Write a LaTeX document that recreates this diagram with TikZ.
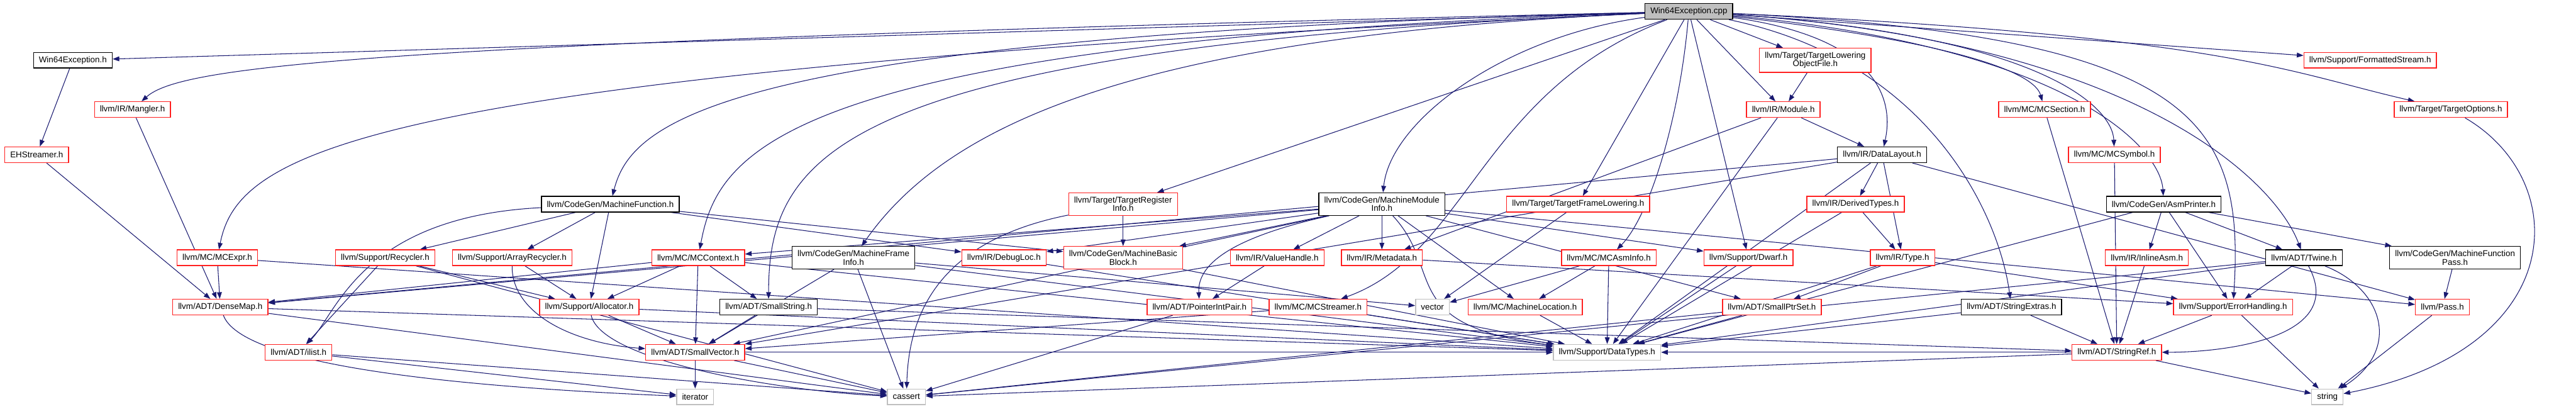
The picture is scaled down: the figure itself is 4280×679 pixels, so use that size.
\documentclass[tikz,border=0pt]{standalone}
\usepackage{fontspec}
\setmainfont{Liberation Sans}
\usepackage{tikz}
\usetikzlibrary{arrows.meta, backgrounds}

\definecolor{dxblue}{HTML}{191970}
\definecolor{dxred}{HTML}{FF2020}
\definecolor{dxgray}{HTML}{BFBFBF}

\begin{document}
\begin{tikzpicture}[
  x=1pt, y=-1pt,
  every node/.style={font=\fontsize{14}{14}\selectfont},
  hdr/.style={rectangle, draw=black, line width=1.4pt, fill=white, inner xsep=9pt, inner ysep=6.5pt, minimum height=26pt, align=center},
  hdrcut/.style={hdr, draw=dxred},
  syshdr/.style={hdr, draw=dxgray},
  rootnode/.style={hdr, fill=dxgray},
  arr/.style={draw=dxblue, line width=1.1pt, -{Triangle[length=11pt, width=8pt]}}
]
\useasboundingbox (0,0) rectangle (4280,679);

% Source file
\node[rootnode] (cpp) at (2806,19) {Win64Exception.cpp};

% Rank 1
\node[hdr] (weh) at (121,100) {Win64Exception.h};
\node[hdrcut] (tlof) at (3016,100) {llvm/Target/TargetLowering\\ObjectFile.h};
\node[hdrcut] (fstream) at (3938,100) {llvm/Support/FormattedStream.h};

% Rank 2
\node[hdrcut] (mangler) at (220,182) {llvm/IR/Mangler.h};
\node[hdrcut] (module) at (2963,182) {llvm/IR/Module.h};
\node[hdrcut] (mcsection) at (3397,182) {llvm/MC/MCSection.h};
\node[hdrcut] (topts) at (4072,182) {llvm/Target/TargetOptions.h};

% Rank 3
\node[hdrcut] (ehs) at (61,257) {EHStreamer.h};
\node[hdr] (dlayout) at (3127,257) {llvm/IR/DataLayout.h};
\node[hdrcut] (mcsymbol) at (3513,257) {llvm/MC/MCSymbol.h};

% Rank 4
\node[hdr] (mfunc) at (1014,339) {llvm/CodeGen/MachineFunction.h};
\node[hdrcut] (tri) at (1866,339) {llvm/Target/TargetRegister\\Info.h};
\node[hdr] (mmi) at (2296,339) {llvm/CodeGen/MachineModule\\Info.h};
\node[hdrcut] (tfl) at (2622,339) {llvm/Target/TargetFrameLowering.h};
\node[hdrcut] (dtypes) at (3083,339) {llvm/IR/DerivedTypes.h};
\node[hdr] (asmp) at (3595,339) {llvm/CodeGen/AsmPrinter.h};

% Rank 5
\node[hdrcut] (mcexpr) at (361,428) {llvm/MC/MCExpr.h};
\node[hdrcut] (recyc) at (640,428) {llvm/Support/Recycler.h};
\node[hdrcut] (arecyc) at (851,428) {llvm/Support/ArrayRecycler.h};
\node[hdrcut] (mcctx) at (1160,428) {llvm/MC/MCContext.h};
\node[hdr] (mfi) at (1418,428) {llvm/CodeGen/MachineFrame\\Info.h};
\node[hdrcut] (dloc) at (1668,428) {llvm/IR/DebugLoc.h};
\node[hdrcut] (mbb) at (1866,428) {llvm/CodeGen/MachineBasic\\Block.h};
\node[hdrcut] (vhandle) at (2122,428) {llvm/IR/ValueHandle.h};
\node[hdrcut] (mdata) at (2296,428) {llvm/IR/Metadata.h};
\node[hdrcut] (mcai) at (2673,428) {llvm/MC/MCAsmInfo.h};
\node[hdrcut] (dwarf) at (2905,428) {llvm/Support/Dwarf.h};
\node[hdrcut] (irtype) at (3161,428) {llvm/IR/Type.h};
\node[hdrcut] (iasm) at (3567,428) {llvm/IR/InlineAsm.h};
\node[hdr] (twine) at (3828,428) {llvm/ADT/Twine.h};
\node[hdr] (mfpass) at (4079,428) {llvm/CodeGen/MachineFunction\\Pass.h};

% Rank 6
\node[hdrcut] (dmap) at (366,510) {llvm/ADT/DenseMap.h};
\node[hdrcut] (alloc) at (979,510) {llvm/Support/Allocator.h};
\node[hdr] (sstring) at (1277,510) {llvm/ADT/SmallString.h};
\node[hdrcut] (pip) at (1993,510) {llvm/ADT/PointerIntPair.h};
\node[hdrcut] (mcstr) at (2190,510) {llvm/MC/MCStreamer.h};
\node[syshdr] (vect) at (2380,510) {vector};
\node[hdrcut] (mloc) at (2534,510) {llvm/MC/MachineLocation.h};
\node[hdrcut] (sps) at (2944,510) {llvm/ADT/SmallPtrSet.h};
\node[hdr] (sext) at (3342,510) {llvm/ADT/StringExtras.h};
\node[hdrcut] (errh) at (3710,510) {llvm/Support/ErrorHandling.h};
\node[hdrcut] (pass) at (4058,510) {llvm/Pass.h};

% Rank 7
\node[hdrcut] (ilist) at (496,585) {llvm/ADT/ilist.h};
\node[hdrcut] (svec) at (1155,585) {llvm/ADT/SmallVector.h};
\node[syshdr] (dtyp) at (2670,585) {llvm/Support/DataTypes.h};
\node[hdrcut] (sref) at (3517,585) {llvm/ADT/StringRef.h};

% Rank 8
\node[syshdr] (iter) at (1155,659) {iterator};
\node[syshdr] (cass) at (1506,659) {cassert};
\node[syshdr] (str) at (3867,659) {string};

% Edges
\begin{scope}[on background layer]
% includes of the source file
\draw[arr] (cpp) -- (weh);
\draw[arr] (cpp) .. controls (600,70) and (300,110) .. (mangler);
\draw[arr] (cpp) .. controls (600,120) and (397,250) .. (mcexpr);
\draw[arr] (cpp) .. controls (1200,60) and (1050,200) .. (mfunc);
\draw[arr] (cpp) .. controls (1300,70) and (1193,250) .. (mcctx);
\draw[arr] (cpp) .. controls (1400,80) and (1277,250) .. (sstring);
\draw[arr] (cpp) .. controls (1900,60) and (1577,200) .. (mfi);
\draw[arr] (cpp) -- (tri);
\draw[arr] (cpp) .. controls (2500,60) and (2310,200) .. (mmi);
\draw[arr] (cpp) .. controls (2460,150) and (2440,420) .. (mcstr);
\draw[arr] (cpp) -- (tfl);
\draw[arr] (cpp) .. controls (2790,200) and (2740,360) .. (mcai);
\draw[arr] (cpp) -- (dwarf);
\draw[arr] (cpp) -- (tlof);
\draw[arr] (cpp) -- (module);
\draw[arr] (cpp) .. controls (3100,60) and (3150,150) .. (dlayout);
\draw[arr] (cpp) .. controls (3250,70) and (3380,120) .. (mcsection);
\draw[arr] (cpp) .. controls (3400,60) and (3510,180) .. (mcsymbol);
\draw[arr] (cpp) .. controls (3200,100) and (3320,350) .. (sext);
\draw[arr] (cpp) .. controls (3450,80) and (3590,250) .. (asmp);
\draw[arr] (cpp) .. controls (3550,70) and (3780,300) .. (twine);
\draw[arr] (cpp) .. controls (3650,60) and (3730,200) .. (errh);
\draw[arr] (cpp) -- (fstream);
\draw[arr] (cpp) .. controls (3700,60) and (3800,120) .. (topts);

\draw[arr] (weh) -- (ehs);
\draw[arr] (ehs) -- (dmap);
\draw[arr] (mangler) -- (dmap);
\draw[arr] (mcexpr) -- (dmap);
\draw[arr] (mcexpr) -- (dtyp);
\draw[arr] (tlof) -- (module);
\draw[arr] (module) -- (dlayout);
\draw[arr] (module) -- (mdata);
\draw[arr] (module) -- (dtyp);
\draw[arr] (dlayout) -- (dtypes);
\draw[arr] (dlayout) -- (irtype);
\draw[arr] (dlayout) -- (pass);
\draw[arr] (dlayout) -- (dmap);
\draw[arr] (dlayout) -- (svec);
\draw[arr] (dlayout) -- (dtyp);
\draw[arr] (dtypes) -- (irtype);
\draw[arr] (dtypes) -- (dtyp);
\draw[arr] (mcsection) -- (sref);
\draw[arr] (mcsymbol) -- (sref);
\draw[arr] (topts) .. controls (4275,300) and (4270,580) .. (str);

\draw[arr] (mfunc) -- (recyc);
\draw[arr] (mfunc) -- (arecyc);
\draw[arr] (mfunc) -- (alloc);
\draw[arr] (mfunc) .. controls (600,360) and (560,520) .. (ilist);
\draw[arr] (mfunc) -- (dloc);
\draw[arr] (mfunc) -- (mbb);
\draw[arr] (recyc) -- (alloc);
\draw[arr] (recyc) -- (ilist);
\draw[arr] (recyc) -- (cass);
\draw[arr] (arecyc) -- (alloc);
\draw[arr] (arecyc) .. controls (850,520) and (950,570) .. (svec);
\draw[arr] (mcctx) -- (alloc);
\draw[arr] (mcctx) -- (svec);
\draw[arr] (mcctx) -- (sstring);
\draw[arr] (mcctx) -- (dmap);
\draw[arr] (mcctx) -- (dtyp);
\draw[arr] (sstring) -- (svec);
\draw[arr] (sstring) -- (sref);
\draw[arr] (mfi) -- (svec);
\draw[arr] (mfi) -- (cass);
\draw[arr] (mfi) -- (vect);
\draw[arr] (mfi) -- (dtyp);
\draw[arr] (tri) -- (mbb);
\draw[arr] (tri) .. controls (1560,400) and (1510,520) .. (cass);
\draw[arr] (dloc) -- (dtyp);
\draw[arr] (mbb) -- (dtyp);

\draw[arr] (mmi) -- (dmap);
\draw[arr] (mmi) .. controls (2020,400) and (1990,450) .. (pip);
\draw[arr] (mmi) -- (sps);
\draw[arr] (mmi) -- (svec);
\draw[arr] (mmi) -- (mloc);
\draw[arr] (mmi) -- (mdata);
\draw[arr] (mmi) -- (vhandle);
\draw[arr] (mmi) -- (mcctx);
\draw[arr] (mmi) -- (dloc);
\draw[arr] (mmi) -- (mbb);
\draw[arr] (mmi) -- (pass);
\draw[arr] (mmi) -- (dwarf);
\draw[arr] (mmi) .. controls (2400,450) and (2320,540) .. (dtyp);
\draw[arr] (vhandle) -- (pip);
\draw[arr] (mdata) -- (errh);
\draw[arr] (pip) -- (cass);
\draw[arr] (mcstr) -- (svec);
\draw[arr] (mcstr) -- (dtyp);
\draw[arr] (tfl) -- (vect);
\draw[arr] (mcai) -- (vect);
\draw[arr] (mcai) -- (mloc);
\draw[arr] (mcai) -- (dtyp);
\draw[arr] (mloc) -- (dtyp);
\draw[arr] (dwarf) -- (dtyp);
\draw[arr] (irtype) -- (sps);
\draw[arr] (irtype) -- (dtyp);
\draw[arr] (irtype) -- (errh);
\draw[arr] (sps) -- (dtyp);
\draw[arr] (sps) -- (cass);
\draw[arr] (sext) -- (sref);
\draw[arr] (sext) -- (dtyp);

\draw[arr] (asmp) -- (iasm);
\draw[arr] (asmp) -- (twine);
\draw[arr] (asmp) -- (errh);
\draw[arr] (asmp) -- (mfpass);
\draw[arr] (asmp) -- (dtyp);
\draw[arr] (iasm) -- (sref);
\draw[arr] (twine) .. controls (3900,560) and (3700,585) .. (sref);
\draw[arr] (twine) -- (errh);
\draw[arr] (twine) .. controls (3960,480) and (3990,580) .. (str);
\draw[arr] (twine) -- (cass);
\draw[arr] (twine) -- (dtyp);
\draw[arr] (errh) -- (sref);
\draw[arr] (errh) -- (str);
\draw[arr] (mfpass) -- (pass);
\draw[arr] (pass) -- (str);

\draw[arr] (sref) -- (str);
\draw[arr] (sref) -- (cass);
\draw[arr] (sref) -- (dtyp);
\draw[arr] (svec) -- (iter);
\draw[arr] (svec) -- (cass);
\draw[arr] (svec) -- (dtyp);
\draw[arr] (ilist) -- (iter);
\draw[arr] (ilist) -- (cass);
\draw[arr] (dmap) .. controls (400,600) and (700,640) .. (iter);
\draw[arr] (dmap) -- (cass);
\draw[arr] (dmap) -- (dtyp);
\draw[arr] (alloc) -- (svec);
\draw[arr] (alloc) -- (dtyp);
\draw[arr] (alloc) .. controls (1000,600) and (1300,650) .. (cass);
\end{scope}

\end{tikzpicture}
\end{document}
